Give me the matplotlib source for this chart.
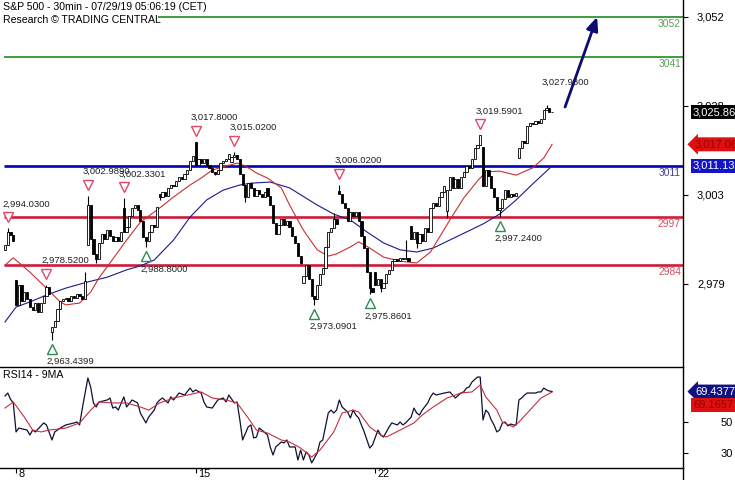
import matplotlib
matplotlib.use("Agg")
import matplotlib.pyplot as plt
import numpy as np
from matplotlib.lines import Line2D
from matplotlib.transforms import offset_copy, blended_transform_factory

plt.rcParams['font.family'] = ['Liberation Sans', 'DejaVu Sans']

# --- data: S&P 500, 30 min bars, July 2019 (13 bars per session) ---
days = [5, 8, 9, 10, 11, 12, 15, 16, 17, 18, 19, 22, 23, 24, 25, 26]
mondays = [8, 15, 22]
day_open = [2988.0, 2979.8, 2965.5, 2989.3, 2999.6, 3003.4, 3017.8, 3012.1,
            3005.1, 2978.9, 3004.3, 2981.9, 2994.7, 2998.8, 3016.3, 3013.3]
day_closes = [
    [2989.5, 2993.0, 2992.2, 2990.4],
    [2973.0, 2978.5, 2974.0, 2976.5, 2974.5, 2972.5, 2971.5, 2973.5, 2971.0, 2973.5, 2975.5, 2978.0, 2976.0],
    [2967.0, 2968.5, 2972.0, 2974.0, 2974.5, 2975.0, 2974.0, 2975.5, 2975.0, 2976.0, 2975.5, 2974.5, 2979.6],
    [3000.5, 2991.0, 2987.0, 2985.5, 2990.0, 2992.5, 2991.0, 2993.5, 2992.0, 2990.5, 2991.5, 2990.5, 2993.1],
    [2993.0, 2994.5, 2997.5, 2999.5, 3000.5, 2999.0, 2996.0, 2991.5, 2990.5, 2993.0, 2995.0, 2994.5, 2999.9],
    [3002.5, 3004.0, 3003.0, 3005.0, 3006.0, 3005.5, 3007.0, 3008.0, 3007.5, 3009.0, 3010.0, 3012.5, 3013.8],
    [3011.5, 3013.0, 3012.0, 3013.0, 3011.5, 3010.5, 3009.5, 3009.0, 3010.0, 3012.0, 3012.5, 3013.0, 3014.3],
    [3013.5, 3014.0, 3013.0, 3009.0, 3006.0, 3002.5, 3006.5, 3005.0, 3003.0, 3004.5, 3003.5, 3002.5, 3004.0],
    [3003.0, 3000.5, 2995.5, 2992.5, 2995.0, 2996.5, 2995.0, 2996.0, 2994.5, 2992.0, 2990.0, 2986.5, 2984.4],
    [2981.0, 2984.0, 2980.0, 2975.5, 2974.5, 2978.5, 2981.5, 2983.0, 2989.0, 2993.0, 2994.0, 2996.5, 2995.1],
    [3003.5, 3001.0, 2999.5, 2996.0, 2998.5, 2997.5, 2998.5, 2996.0, 2992.0, 2988.5, 2982.0, 2977.5, 2976.6],
    [2978.5, 2980.0, 2977.5, 2979.0, 2981.5, 2982.5, 2985.0, 2985.5, 2985.0, 2986.0, 2985.5, 2986.0, 2985.0],
    [2991.0, 2993.0, 2990.0, 2992.5, 2990.5, 2994.0, 2993.0, 2999.5, 3001.0, 3000.0, 3002.5, 3004.0, 3005.5],
    [3004.5, 3008.0, 3005.0, 3007.5, 3005.0, 3008.0, 3009.5, 3011.0, 3010.5, 3013.0, 3016.0, 3017.0, 3019.6],
    [3005.5, 3010.0, 3008.5, 3005.0, 3002.5, 2999.0, 2999.5, 3002.0, 3004.5, 3002.5, 3003.5, 3003.0, 3003.7],
    [3016.0, 3018.0, 3017.5, 3022.0, 3023.0, 3022.5, 3023.5, 3023.0, 3024.0, 3026.5, 3027.0, 3026.0, 3025.86],
]

# labelled swing points (bar index -> price)
swing_high = {1: 2994.03, 15: 2978.52, 30: 3002.989, 43: 3002.3301, 69: 3017.80,
              83: 3015.02, 121: 3006.02, 172: 3019.5901}
swing_low = {17: 2963.4399, 51: 2988.80, 112: 2973.0901, 132: 2975.8601, 179: 2997.24}
last_high = {196: 3027.98}
# other wick extremes
wick_high = {29: 2981.9, 119: 2998.28, 145: 2990.71}
wick_low = {33: 2984.62, 56: 3001.87, 76: 3008.77, 87: 3001.15, 107: 2984.25,
            136: 2976.65, 149: 2988.56, 160: 2996.82}

levels = [3052, 3041, 3011, 2997, 2984]
level_first_bar = [56, 0, 0, 0, 0]

# moving averages on price
ma_fast_bar = [0, 3, 9, 15, 20, 22, 27, 31, 34, 38, 44, 49, 56, 61, 67, 71, 75, 80, 84, 87, 91,
               95, 100, 103, 108, 113, 117, 120, 125, 128, 132, 137, 143, 149, 154, 161, 166,
               171, 174, 179, 185, 191, 195, 198]
ma_fast = [2983.9, 2985.9, 2982.0, 2977.6, 2973.8, 2973.0, 2973.5, 2976.5, 2980.4, 2984.5,
           2990.8, 2995.7, 2999.6, 3002.6, 3005.9, 3007.8, 3010.0, 3011.1, 3011.9, 3011.1,
           3009.2, 3007.8, 3005.1, 3000.4, 2993.5, 2988.1, 2986.4, 2987.0, 2988.9, 2990.3,
           2988.6, 2986.1, 2985.0, 2984.5, 2987.5, 2996.3, 3002.3, 3007.0, 3009.5, 3009.7,
           3008.6, 3010.6, 3013.3, 3017.06]
ma_slow_bar = [0, 4, 9, 15, 22, 30, 37, 44, 49, 54, 61, 67, 73, 79, 85, 89, 96, 103, 113, 119,
               125, 131, 137, 143, 149, 155, 161, 167, 173, 179, 185, 191, 198]
ma_slow = [2968.3, 2972.4, 2973.8, 2975.7, 2977.6, 2979.3, 2980.6, 2982.6, 2983.7, 2985.3,
           2990.8, 2997.1, 3001.8, 3004.5, 3005.9, 3006.4, 3006.7, 3005.1, 3000.4, 2997.9,
           2996.3, 2993.0, 2990.0, 2988.1, 2987.5, 2988.6, 2990.8, 2993.0, 2995.2, 2997.9,
           3001.8, 3006.2, 3011.13]

# RSI(14) and its 9-period average
rsi_bar = [0, 1, 2, 3, 4, 5, 8, 9, 10, 11, 14, 15, 17, 18, 20, 22, 25, 26, 27, 28, 30, 31, 32,
           33, 34, 37, 38, 39, 40, 41, 43, 44, 46, 48, 49, 51, 52, 54, 55, 56, 57, 59, 60, 61,
           63, 65, 67, 68, 69, 71, 72, 73, 75, 77, 79, 80, 81, 83, 84, 85, 86, 88, 89, 90, 91,
           92, 93, 95, 96, 97, 98, 100, 101, 102, 103, 105, 106, 107, 108, 109, 110, 111, 113,
           114, 115, 117, 118, 119, 120, 121, 122, 124, 125, 126, 127, 128, 130, 131, 132, 133,
           135, 136, 137, 138, 139, 140, 142, 143, 144, 145, 147, 148, 149, 150, 151, 153, 154,
           155, 156, 159, 161, 163, 165, 166, 167, 168, 169, 171, 172, 173, 174, 175, 176, 177,
           178, 179, 180, 181, 182, 183, 184, 185, 186, 187, 188, 189, 190, 191, 192, 193, 194,
           195, 196, 197, 198]
rsi = [66.6, 68.5, 64.5, 62.1, 43.4, 45.9, 44.6, 41.4, 44.6, 43.4, 49.2, 47.9, 38.2, 43.4, 45.9,
       47.9, 49.2, 49.8, 47.9, 58.8, 78.2, 72.4, 62.1, 59.5, 62.7, 64.0, 65.3, 58.8, 59.5, 57.5,
       66.0, 59.5, 64.0, 62.1, 55.6, 49.2, 53.0, 57.5, 62.1, 64.0, 65.3, 62.1, 66.0, 64.0, 68.5,
       67.2, 71.7, 69.2, 70.5, 68.5, 62.7, 59.5, 58.8, 64.0, 65.3, 62.7, 67.2, 62.1, 62.7, 51.1,
       38.2, 46.6, 47.9, 39.5, 40.1, 45.9, 44.6, 41.4, 33.7, 28.5, 33.7, 36.9, 36.3, 38.2, 33.7,
       33.7, 25.3, 31.7, 25.3, 30.5, 28.5, 23.4, 29.8, 36.9, 38.2, 55.6, 57.5, 55.6, 57.5, 64.0,
       59.5, 56.3, 52.4, 57.5, 54.3, 52.4, 43.4, 38.2, 33.0, 35.0, 44.6, 41.4, 40.1, 43.4, 46.6,
       49.2, 47.9, 49.8, 47.9, 49.2, 53.0, 58.8, 55.6, 54.3, 57.5, 62.1, 66.0, 68.5, 67.2, 68.5,
       69.2, 65.3, 68.5, 69.2, 71.7, 72.4, 75.6, 78.8, 78.8, 51.1, 57.5, 55.6, 51.1, 47.9, 43.4,
       44.6, 49.2, 49.8, 47.3, 48.5, 47.9, 47.9, 64.0, 65.3, 67.2, 68.5, 68.5, 68.5, 68.5, 69.2,
       69.2, 71.7, 70.5, 69.8, 69.4377]
rsi_ma_bar = [0, 3, 7, 10, 13, 16, 22, 27, 31, 34, 39, 44, 49, 52, 56, 61, 66, 71, 75, 80, 84,
              88, 91, 95, 100, 103, 107, 111, 114, 119, 122, 126, 128, 132, 136, 138, 143, 148,
              151, 155, 160, 165, 169, 172, 174, 178, 180, 184, 186, 190, 194, 198]
rsi_ma = [58.8, 62.7, 53.0, 44.6, 43.4, 44.6, 45.9, 49.2, 57.5, 62.7, 62.1, 62.1, 59.5, 57.5,
          62.1, 65.3, 67.2, 69.2, 65.3, 64.0, 62.1, 52.4, 44.6, 42.7, 38.2, 36.9, 33.0, 27.2,
          31.7, 43.4, 55.6, 57.5, 56.3, 46.6, 41.4, 40.1, 44.6, 49.2, 54.3, 59.5, 65.3, 68.5,
          69.2, 73.7, 66.0, 57.5, 49.8, 46.6, 49.8, 57.5, 65.3, 69.1657]

price_ticks = [3052, 3027.6, 3003.2, 2978.8]
rsi_ticks = [50, 30]

# --- build the candles ---
opens, closes, day_first_bar = [], [], []
for o, cl in zip(day_open, day_closes):
    day_first_bar.append(len(closes))
    prev = o
    for c in cl:
        opens.append(prev)
        closes.append(c)
        prev = c
opens = np.array(opens)
closes = np.array(closes)
n = len(closes)
bars = np.arange(n)
highs = np.maximum(opens, closes)
lows = np.minimum(opens, closes)
for d in (swing_high, last_high, wick_high):
    for b, v in d.items():
        highs[b] = max(highs[b], v)
for d in (swing_low, wick_low):
    for b, v in d.items():
        lows[b] = min(lows[b], v)

# --- layout (pixel geometry of the 735x480 picture) ---
W, H = 735, 480
PX_BAR = 2.763          # pixels per bar, first bar at x=5
AX_R = 683              # right axis line
PX_PT = 3.644           # pixels per index point, 3052 at y=17
PX_RSI = 1.55           # pixels per RSI unit, 50 at y=421.7

fig = plt.figure(figsize=(W / 100, H / 100), dpi=100)


def px_rect(x0, y0, x1, y1):
    return [x0 / W, 1 - y1 / H, (x1 - x0) / W, (y1 - y0) / H]


ax = fig.add_axes(px_rect(0, 0, AX_R, 366.5))
axr = fig.add_axes(px_rect(0, 366.7, AX_R, 467.7))

xlim = (-5 / PX_BAR, (AX_R - 5) / PX_BAR)
ax.set_xlim(*xlim)
axr.set_xlim(*xlim)
ax.set_ylim(3052 - (366.5 - 17) / PX_PT, 3052 + 17 / PX_PT)
axr.set_ylim(50 - (467.7 - 421.7) / PX_RSI, 50 + (421.7 - 366.7) / PX_RSI)

# level lines
level_styles = [('#1e8c1e', 1.2, '#5a9e5a'), ('#1e8c1e', 1.2, '#5a9e5a'),
                ('#0000b4', 1.9, '#4040a0'), ('#d01a3a', 1.9, '#d05060'),
                ('#d01a3a', 1.9, '#d05060')]
for lvl, b0, (lc, lw, tc) in zip(levels, level_first_bar, level_styles):
    ax.plot([b0 - 0.5, xlim[1]], [lvl, lvl], color=lc, lw=lw, zorder=2, solid_capstyle='butt')
    ax.annotate(str(lvl), (1, lvl), xycoords=('axes fraction', 'data'),
                xytext=(-1.5, -5), textcoords='offset points', ha='right', va='center',
                fontsize=7.4, color=tc, zorder=6)

# moving averages
ax.plot(ma_slow_bar, ma_slow, color='#1a1a8c', lw=0.8, zorder=3)
ax.plot(ma_fast_bar, ma_fast, color='#c83030', lw=0.8, zorder=3)

# candles
up = closes >= opens
ax.vlines(bars, lows, highs, color='black', lw=0.8, zorder=4)
ax.bar(bars, np.abs(closes - opens), bottom=np.minimum(opens, closes), width=0.8,
       color=np.where(up, 'white', 'black'), edgecolor='black', linewidth=0.6, zorder=5)

# swing markers and labels (offsets in pixels)
hb = list(swing_high)
ax.plot(hb, [swing_high[b] for b in hb], 'v', ms=7, mfc='white', mec='#e04868', mew=1,
        transform=offset_copy(ax.transData, fig=fig, y=11, units='dots'), zorder=6)
lb = list(swing_low)
ax.plot(lb, [swing_low[b] for b in lb], '^', ms=7, mfc='white', mec='#2e8b57', mew=1,
        transform=offset_copy(ax.transData, fig=fig, y=-9, units='dots'), zorder=6)
for d, dy in ((swing_high, 24), (last_high, 22), (swing_low, -22)):
    for b, v in d.items():
        ax.annotate(f"{v:,.4f}", (b, v), xytext=(-5 * 0.72, dy * 0.72),
                    textcoords='offset points', ha='left', va='center', fontsize=6.8,
                    color='#202020', zorder=7, annotation_clip=False)

# target arrow toward the upper green level
ax.annotate('', xy=(214.3, levels[0]), xytext=(202.7, 3027.3),
            arrowprops=dict(arrowstyle='-|>,head_length=0.8,head_width=0.35',
                            color='#0b0b70', lw=2, shrinkA=0, shrinkB=0), zorder=7)

# RSI panel
axr.plot(rsi_bar, rsi, color='#101030', lw=0.9, zorder=3)
axr.plot(rsi_ma_bar, rsi_ma, color='#c03040', lw=0.8, zorder=4)

# axes styling
for a in (ax, axr):
    a.set_facecolor('white')
    a.spines['left'].set_visible(False)
    a.yaxis.tick_right()
    a.tick_params(axis='y', direction='out', length=3.6, width=0.8, labelsize=8,
                  colors='black')
ax.spines['top'].set_visible(False)
ax.spines['bottom'].set_visible(False)
ax.set_xticks([])
ax.set_yticks(price_ticks)
ax.set_yticklabels([f"{v:,.0f}" for v in price_ticks])
ax.tick_params(axis='y', pad=6.5)
axr.set_yticks(rsi_ticks)
axr.set_yticklabels([str(v) for v in rsi_ticks])
axr.tick_params(axis='y', pad=23.5)
for s in ('top', 'bottom', 'right'):
    axr.spines[s].set_linewidth(1.0)
ax.spines['right'].set_linewidth(1.0)

week_bars = [day_first_bar[days.index(d)] for d in mondays]
axr.set_xticks(week_bars)
axr.set_xticklabels([])
axr.tick_params(axis='x', direction='out', length=3.6, width=0.8)
for b, d in zip(week_bars, mondays):
    axr.annotate(str(d), (b, 0), xycoords=('data', 'axes fraction'), xytext=(1.5, -4.6),
                 textcoords='offset points', ha='left', va='center', fontsize=7.8)

fig.add_artist(Line2D([AX_R / W, AX_R / W], [0, 1 - 467.7 / H], color='black', lw=1.0))

# value boxes on the right scale
def side_box(a, value, text, fc, tc, x_px, style='square,pad=0.18', dy_px=0):
    tr = offset_copy(blended_transform_factory(a.transAxes, a.transData), fig=fig,
                     y=dy_px, units='dots')
    a.text(x_px / AX_R, value, text, transform=tr, color=tc, fontsize=8, va='center',
           ha='left', bbox=dict(boxstyle=style, fc=fc, ec='none'), zorder=10, clip_on=False)


side_box(ax, closes[-1], f"{closes[-1]:,.2f}", 'black', 'white', 693)
side_box(ax, ma_fast[-1], f"{ma_fast[-1]:,.2f}", '#e01010', '#900000', 695,
         style='larrow,pad=0.18')
side_box(ax, ma_slow[-1], f"{ma_slow[-1]:,.2f}", '#1414c8', 'white', 693)
side_box(axr, rsi[-1], f"{rsi[-1]:.4f}", '#101080', 'white', 695, style='larrow,pad=0.18')
side_box(axr, rsi_ma[-1], f"{rsi_ma[-1]:.4f}", '#e01010', '#900000', 693, dy_px=-13)

# header texts
fig.text(3 / W, 1 - 7 / H, "S&P 500 - 30min - 07/29/19 05:06:19 (CET)", fontsize=7.6,
         va='center', ha='left')
fig.text(3 / W, 1 - 20 / H, "Research \u00a9 TRADING CENTRAL", fontsize=7.6,
         va='center', ha='left')
fig.text(3 / W, 1 - 375 / H, "RSI14 - 9MA", fontsize=7.6, va='center', ha='left')

fig.savefig("out.png", dpi=100)
